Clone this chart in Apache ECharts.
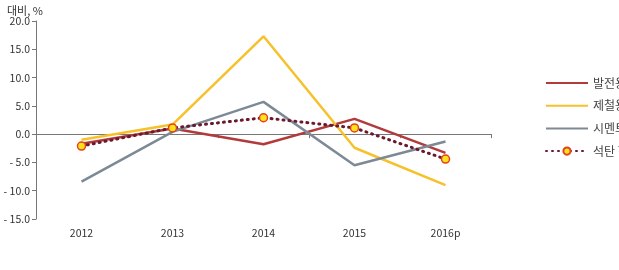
<!DOCTYPE html>
<html>
<head>
<meta charset="utf-8">
<script src="https://cdn.jsdelivr.net/npm/echarts@6/dist/echarts.min.js"></script>
<style>
  html, body { margin: 0; padding: 0; background: #fff; }
  #chart { width: 619px; height: 270px; }
</style>
</head>
<body>
<div id="chart"></div>
<script>
// 연도
var years = ['2012', '2013', '2014', '2015', '2016p']
// 용도별 증감률 (%)
var power = [-1.7, 1.0, -1.8, 2.7, -3.3]
var steel = [-1.0, 1.7, 17.3, -2.4, -9.0]
var cement = [-8.4, 0.4, 5.7, -5.5, -1.3]
var total = [-2.1, 1.1, 2.9, 1.1, -4.4]
var names = ['발전용', '제철용', '시멘트용', '석탄 합계']

var font = '"Noto Sans CJK KR", "Noto Sans", sans-serif'

var chart = echarts.init(document.getElementById('chart'))
chart.setOption({
    animation: false,
    textStyle: { fontFamily: font },
    title: {
        text: '대비, %',
        left: 2,
        top: 0,
        textStyle: { fontSize: 11, fontWeight: 'normal', color: '#333', fontFamily: font }
    },
    legend: {
        orient: 'vertical',
        left: 540,
        top: 72,
        itemWidth: 42,
        itemHeight: 9,
        itemGap: 10.7,
        textStyle: { fontSize: 12, color: '#444', fontFamily: font },
        data: [
            { name: names[0], itemStyle: { opacity: 0 } },
            { name: names[1], itemStyle: { opacity: 0 } },
            { name: names[2], itemStyle: { opacity: 0 } },
            { name: names[3] }
        ]
    },
    grid: { left: 36, right: 128, top: 21, bottom: 51 },
    xAxis: [{
        // 하단 연도 라벨
        type: 'category',
        data: years,
        position: 'bottom',
        axisLine: { show: false, onZero: false },
        axisTick: { show: false },
        axisLabel: { color: '#333', fontSize: 10.5, fontFamily: font, interval: 0, margin: 9 }
    }, {
        // 0 기준선
        type: 'category',
        data: years,
        position: 'bottom',
        axisLine: { onZero: true, lineStyle: { color: '#777', width: 1 } },
        axisTick: { show: true, length: 4, lineStyle: { color: '#777' } },
        axisLabel: { show: false }
    }],
    yAxis: {
        type: 'value',
        min: -15,
        max: 20,
        interval: 5,
        splitLine: { show: false },
        axisLine: { show: true, lineStyle: { color: '#777', width: 1 } },
        axisTick: { show: true, length: 4, lineStyle: { color: '#777' } },
        axisLabel: {
            color: '#333', fontSize: 10.5, fontFamily: font, margin: 6,
            formatter: function (v) {
                return v < 0 ? '- ' + Math.abs(v).toFixed(1) : v.toFixed(1)
            }
        }
    },
    series: [{
        name: names[0],
        type: 'line',
        data: power,
        symbol: 'none',
        itemStyle: { color: '#B23A3A' },
        lineStyle: { color: '#B23A3A', width: 2.5 }
    }, {
        name: names[1],
        type: 'line',
        data: steel,
        symbol: 'none',
        itemStyle: { color: '#F6C12B' },
        lineStyle: { color: '#F6C12B', width: 2.5 }
    }, {
        name: names[2],
        type: 'line',
        data: cement,
        symbol: 'none',
        itemStyle: { color: '#7D8A96' },
        lineStyle: { color: '#7D8A96', width: 2.5 }
    }, {
        name: names[3],
        type: 'line',
        data: total,
        symbol: 'circle',
        symbolSize: 8,
        itemStyle: { color: '#FFE31A', borderColor: '#E5401E', borderWidth: 1.5 },
        lineStyle: { color: '#6A1A2C', width: 3, type: [1, 5], cap: 'round' },
        z: 5
    }]
})
</script>
</body>
</html>
